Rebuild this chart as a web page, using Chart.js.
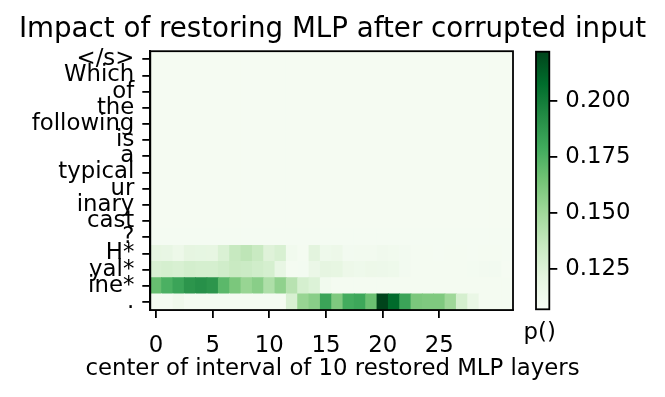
<!DOCTYPE html>
<html><head><meta charset="utf-8">
<script src="https://cdn.jsdelivr.net/npm/chart.js@4"></script>
<style>
html,body{margin:0;padding:0;background:#fff;}
#wrap{position:relative;width:665px;height:397px;}
canvas{position:absolute;left:0;top:0;}
</style>
</head><body>
<div id="wrap"><canvas id="main" width="665" height="397"></canvas><canvas id="cbar" width="665" height="397"></canvas></div>
<script>
// ---- data ----
const TITLE = 'Impact of restoring MLP after corrupted input';
const XLABEL = 'center of interval of 10 restored MLP layers';
const CBAR_LABEL = 'p()';
const tokens = ['</s>', 'Which', 'of', 'the', 'following', 'is', 'a', 'typical', 'ur', 'inary', 'cast', '?', 'H*', 'yal*', 'ine*', '.'];
const layers = [0,1,2,3,4,5,6,7,8,9,10,11,12,13,14,15,16,17,18,19,20,21,22,23,24,25,26,27,28,29,30,31];
const xTicks = [0, 5, 10, 15, 20, 25];
const cbTicks = [0.125, 0.150, 0.175, 0.200];
const VMIN = 0.1069;
const VMAX = 0.2219;

const row_eos       = [0.1087,0.1087,0.1087,0.1087,0.1087,0.1087,0.1087,0.1087,0.1087,0.1087,0.1087,0.1087,0.1087,0.1087,0.1087,0.1087,0.1087,0.1087,0.1087,0.1087,0.1087,0.1087,0.1087,0.1087,0.1087,0.1087,0.1087,0.1087,0.1087,0.1087,0.1087,0.1087];
const row_which     = [0.1087,0.1087,0.1087,0.1087,0.1087,0.1087,0.1087,0.1087,0.1087,0.1087,0.1087,0.1087,0.1087,0.1087,0.1087,0.1087,0.1087,0.1087,0.1087,0.1087,0.1087,0.1087,0.1087,0.1087,0.1087,0.1087,0.1087,0.1087,0.1087,0.1087,0.1087,0.1087];
const row_of        = [0.1087,0.1087,0.1087,0.1087,0.1087,0.1087,0.1087,0.1087,0.1087,0.1087,0.1087,0.1087,0.1087,0.1087,0.1087,0.1087,0.1087,0.1087,0.1087,0.1087,0.1087,0.1087,0.1087,0.1087,0.1087,0.1087,0.1087,0.1087,0.1087,0.1087,0.1087,0.1087];
const row_the       = [0.1087,0.1087,0.1087,0.1087,0.1087,0.1087,0.1087,0.1087,0.1087,0.1087,0.1087,0.1087,0.1087,0.1087,0.1087,0.1087,0.1087,0.1087,0.1087,0.1087,0.1087,0.1087,0.1087,0.1087,0.1087,0.1087,0.1087,0.1087,0.1087,0.1087,0.1087,0.1087];
const row_following = [0.1087,0.1087,0.1087,0.1087,0.1087,0.1087,0.1087,0.1087,0.1087,0.1087,0.1087,0.1087,0.1087,0.1087,0.1087,0.1087,0.1087,0.1087,0.1087,0.1087,0.1087,0.1087,0.1087,0.1087,0.1087,0.1087,0.1087,0.1087,0.1087,0.1087,0.1087,0.1087];
const row_is        = [0.1087,0.1087,0.1087,0.1087,0.1087,0.1087,0.1087,0.1087,0.1087,0.1087,0.1087,0.1087,0.1087,0.1087,0.1087,0.1087,0.1087,0.1087,0.1087,0.1087,0.1087,0.1087,0.1087,0.1087,0.1087,0.1087,0.1087,0.1087,0.1087,0.1087,0.1087,0.1087];
const row_a         = [0.1087,0.1087,0.1087,0.1087,0.1087,0.1087,0.1087,0.1087,0.1087,0.1087,0.1087,0.1087,0.1087,0.1087,0.1087,0.1087,0.1087,0.1087,0.1087,0.1087,0.1087,0.1087,0.1087,0.1087,0.1087,0.1087,0.1087,0.1087,0.1087,0.1087,0.1087,0.1087];
const row_typical   = [0.1087,0.1087,0.1087,0.1087,0.1087,0.1087,0.1087,0.1087,0.1087,0.1087,0.1087,0.1087,0.1087,0.1087,0.1087,0.1087,0.1087,0.1087,0.1087,0.1087,0.1087,0.1087,0.1087,0.1087,0.1087,0.1087,0.1087,0.1087,0.1087,0.1087,0.1087,0.1087];
const row_ur        = [0.1087,0.1087,0.1087,0.1087,0.1087,0.1087,0.1087,0.1087,0.1087,0.1087,0.1087,0.1087,0.1087,0.1087,0.1087,0.1087,0.1087,0.1087,0.1087,0.1087,0.1087,0.1087,0.1087,0.1087,0.1087,0.1087,0.1087,0.1087,0.1087,0.1087,0.1087,0.1087];
const row_inary     = [0.1087,0.1087,0.1087,0.1087,0.1087,0.1087,0.1087,0.1087,0.1087,0.1087,0.1087,0.1087,0.1087,0.1087,0.1087,0.1087,0.1087,0.1087,0.1087,0.1087,0.1087,0.1087,0.1087,0.1087,0.1087,0.1087,0.1087,0.1087,0.1087,0.1087,0.1087,0.1087];
const row_cast      = [0.1088,0.1088,0.1088,0.1088,0.1088,0.1088,0.1088,0.1088,0.1088,0.1088,0.1088,0.1088,0.1088,0.1088,0.1088,0.1088,0.1088,0.1088,0.1088,0.1088,0.1088,0.1088,0.1088,0.1088,0.1088,0.1088,0.1088,0.1088,0.1088,0.1088,0.1088,0.1088];
const row_q         = [0.1089,0.1089,0.1089,0.1089,0.1089,0.1089,0.1089,0.1090,0.1090,0.1089,0.1089,0.1089,0.1089,0.1089,0.1090,0.1092,0.1092,0.1090,0.1089,0.1089,0.1089,0.1089,0.1089,0.1089,0.1089,0.1089,0.1089,0.1089,0.1089,0.1089,0.1089,0.1089];
const row_H         = [0.1197,0.1185,0.1151,0.1208,0.1202,0.1197,0.1266,0.1358,0.1392,0.1346,0.1243,0.1277,0.1116,0.1093,0.1220,0.1139,0.1151,0.1105,0.1110,0.1110,0.1122,0.1116,0.1105,0.1093,0.1093,0.1092,0.1093,0.1093,0.1092,0.1093,0.1093,0.1092];
const row_yal       = [0.1277,0.1289,0.1277,0.1300,0.1289,0.1289,0.1312,0.1346,0.1335,0.1312,0.1289,0.1185,0.1093,0.1099,0.1162,0.1208,0.1197,0.1151,0.1139,0.1151,0.1145,0.1139,0.1105,0.1093,0.1093,0.1093,0.1093,0.1093,0.1099,0.1105,0.1105,0.1087];
const row_ine       = [0.1680,0.1760,0.1818,0.1887,0.1910,0.1887,0.1714,0.1622,0.1530,0.1576,0.1450,0.1553,0.1415,0.1289,0.1254,0.1116,0.1093,0.1093,0.1093,0.1093,0.1093,0.1093,0.1093,0.1093,0.1093,0.1093,0.1093,0.1093,0.1093,0.1093,0.1093,0.1093];
const row_dot       = [0.1093,0.1093,0.1128,0.1093,0.1093,0.1093,0.1093,0.1093,0.1093,0.1093,0.1093,0.1093,0.1277,0.1530,0.1576,0.1818,0.1610,0.1783,0.1806,0.1668,0.2219,0.2082,0.1818,0.1622,0.1610,0.1610,0.1507,0.1289,0.1174,0.1093,0.1093,0.1093];

const heat = [row_eos,row_which,row_of,row_the,row_following,row_is,row_a,row_typical,row_ur,row_inary,row_cast,row_q,row_H,row_yal,row_ine,row_dot];

// ---- colormap (matplotlib Greens) ----
const GREENS = ['#f7fcf5','#e5f5e0','#c7e9c0','#a1d99b','#74c476','#41ab5d','#238b45','#006d2c','#00441b'];
function hex2rgb(h){return [parseInt(h.slice(1,3),16),parseInt(h.slice(3,5),16),parseInt(h.slice(5,7),16)];}
function greens(t){
  t = Math.max(0, Math.min(1, t));
  const n = GREENS.length - 1, f = t * n, i = Math.min(n - 1, Math.floor(f)), u = f - i;
  const a = hex2rgb(GREENS[i]), b = hex2rgb(GREENS[i+1]);
  return 'rgb(' + a.map((v,k) => Math.round(v + (b[k]-v)*u)).join(',') + ')';
}

Chart.defaults.font.family = 'DejaVu Sans';
Chart.defaults.color = '#000';

const FS = 22.8;
const frame = {id:'frame', afterDraw(chart){
  const {ctx, chartArea:a} = chart;
  ctx.save(); ctx.strokeStyle = '#000'; ctx.lineWidth = 1.8;
  ctx.strokeRect(a.left, a.top, a.width, a.height); ctx.restore();
}};

const points = [], colors = [];
tokens.forEach((tok, r) => heat[r].forEach((v, c) => {
  points.push({x: layers[c], y: [r - 0.5, r + 0.5]});
  colors.push(greens((v - VMIN) / (VMAX - VMIN)));
}));

const tickGrid = {display:true, drawOnChartArea:false, drawTicks:true, tickLength:8, color:'#000', lineWidth:1.8, offset:false};
const axisBorder = {display:true, color:'#000', width:1.8};

new Chart(document.getElementById('main'), {
  type: 'bar',
  data: {datasets: [{data: points, backgroundColor: colors, borderWidth: 0, barPercentage: 1, categoryPercentage: 1, inflateAmount: 0.4}]},
  options: {
    responsive: false, animation: false, events: [],
    layout: {padding: 0},
    plugins: {
      legend: {display: false}, tooltip: {enabled: false},
      title: {display: true, text: TITLE, color: '#000', font: {size: 27.7, weight: 'normal'}, padding: {top: 13, bottom: 4.96}},
      subtitle: {display: true, position: 'bottom', text: XLABEL, color: '#000', font: {size: FS, weight: 'normal'}, padding: {top: 0, bottom: 13.9}}
    },
    scales: {
      x: {type: 'linear', offset: false, min: -0.5, max: 31.5,
          afterBuildTicks: s => { s.ticks = xTicks.map(v => ({value: v})); },
          ticks: {callback: v => String(v), font: {size: FS}, padding: 14, maxRotation: 0, autoSkip: false},
          grid: tickGrid, border: axisBorder,
          afterFit: s => { s.height = 45.7; }},
      y: {type: 'linear', reverse: true, offset: false, min: -0.5, max: 15.5,
          afterBuildTicks: s => { s.ticks = tokens.map((t, i) => ({value: i})); },
          ticks: {callback: v => tokens[v], font: {size: FS}, padding: 8, autoSkip: false},
          grid: tickGrid, border: axisBorder,
          afterFit: s => { s.width = 150.3; }},
      pad: {type: 'linear', position: 'right', display: true, grid: {display: false}, border: {display: false}, ticks: {display: false},
          afterFit: s => { s.width = 152; }}
    }
  },
  plugins: [frame]
});

new Chart(document.getElementById('cbar'), {
  type: 'bar',
  data: {labels: [CBAR_LABEL], datasets: [{data: [[VMIN, VMAX]], borderWidth: 0, barPercentage: 1, categoryPercentage: 1,
    backgroundColor: ctx => {
      const a = ctx.chart.chartArea;
      if (!a) return GREENS[4];
      const g = ctx.chart.ctx.createLinearGradient(0, a.bottom, 0, a.top);
      GREENS.forEach((c, i) => g.addColorStop(i / (GREENS.length - 1), c));
      return g;
    }}]},
  options: {
    responsive: false, animation: false, events: [],
    layout: {padding: {left: 536, top: 51.7, right: 0, bottom: 0}},
    plugins: {legend: {display: false}, tooltip: {enabled: false}},
    scales: {
      x: {display: true, grid: {display: false, drawTicks: false}, border: {display: false},
          ticks: {display: true, font: {size: FS}, padding: 10.5, maxRotation: 0, minRotation: 0, autoSkip: false, labelOffset: -3},
          afterFit: s => { s.height = 87.7; }},
      y: {position: 'right', min: VMIN, max: VMAX,
          afterBuildTicks: s => { s.ticks = cbTicks.map(v => ({value: v})); },
          ticks: {callback: v => v.toFixed(3), font: {size: FS}, padding: 8},
          grid: {display: true, drawOnChartArea: false, drawTicks: true, tickLength: 8, color: '#000', lineWidth: 1.8},
          border: axisBorder,
          afterFit: s => { s.width = 665 - 549.3; }}
    }
  },
  plugins: [frame]
});
</script>
</body></html>
